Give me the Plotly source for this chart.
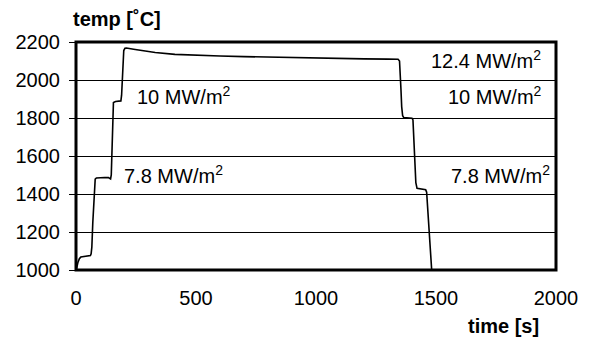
import plotly.graph_objects as go

# time [s] and temperature [°C]
time_s = [0, 3, 8, 14, 20, 35, 50, 60, 63, 66, 70, 74, 77, 80, 85, 100, 120, 135, 140, 144,
          147, 149, 151, 153, 156, 165, 180, 187, 190, 192, 195, 199, 204, 210, 240, 280,
          330, 412, 500, 600, 700, 800, 900, 975, 1100, 1200, 1300, 1342, 1348, 1351, 1354,
          1357, 1361, 1366, 1380, 1400, 1404, 1407, 1412, 1416, 1421, 1435, 1450, 1457, 1461,
          1465, 1470, 1475, 1479, 1482]
temp_c = [1000, 1010, 1040, 1060, 1068, 1071, 1073, 1076, 1085, 1120, 1250, 1380, 1455, 1478,
          1484, 1486, 1487, 1486, 1482, 1479, 1500, 1600, 1750, 1850, 1882, 1887, 1889, 1890,
          1920, 2000, 2100, 2155, 2167, 2168, 2162, 2154, 2145, 2135, 2130, 2126, 2123, 2120,
          2117, 2114, 2112, 2111, 2110, 2109, 2100, 2050, 1950, 1860, 1812, 1802, 1800, 1799,
          1790, 1720, 1560, 1460, 1430, 1427, 1425, 1422, 1410, 1330, 1200, 1090, 1010, 1000]

x_ticks = [0, 500, 1000, 1500, 2000]
y_ticks = [1000, 1200, 1400, 1600, 1800, 2000, 2200]

labels = ["10 MW/m<sup>2</sup>", "7.8 MW/m<sup>2</sup>",
          "12.4 MW/m<sup>2</sup>", "10 MW/m<sup>2</sup>", "7.8 MW/m<sup>2</sup>"]
label_x = [245, 190, 1945, 1950, 1985]
label_y = [1920, 1505, 2110, 1920, 1505]
label_anchor = ["left", "left", "right", "right", "right"]

FONT = "Arial, Liberation Sans, sans-serif"

fig = go.Figure()
fig.add_trace(go.Scatter(x=time_s, y=temp_c, mode="lines",
                         line=dict(color="black", width=1.6), showlegend=False,
                         hoverinfo="skip"))

for txt, lx, ly, anc in zip(labels, label_x, label_y, label_anchor):
    fig.add_annotation(x=lx, y=ly, xref="x", yref="y", text=txt, showarrow=False,
                       xanchor=anc, yanchor="middle",
                       font=dict(family=FONT, size=20, color="black"))

fig.add_annotation(x=-0.01, y=1.0, xref="paper", yref="paper", yshift=23,
                   text="<b>temp [˚C]</b>", showarrow=False, xanchor="left",
                   yanchor="middle", font=dict(family=FONT, size=20, color="black"))
fig.add_annotation(x=0.968, y=0, xref="paper", yref="paper", yshift=-56,
                   text="<b>time [s]</b>", showarrow=False, xanchor="right",
                   yanchor="middle", font=dict(family=FONT, size=20, color="black"))

fig.add_shape(type="rect", xref="paper", yref="paper", x0=0, y0=0, x1=1, y1=1,
              line=dict(color="black", width=3), layer="above")

fig.update_layout(
    width=591, height=338,
    margin=dict(l=76, r=35, t=42, b=68),
    paper_bgcolor="white", plot_bgcolor="white",
    font=dict(family=FONT, size=20, color="black"),
    xaxis=dict(range=[0, 2000], tickvals=x_ticks, ticks="", showgrid=False,
               zeroline=False, showline=False, ticklabelstandoff=14,
               tickfont=dict(size=20)),
    yaxis=dict(range=[1000, 2200], tickvals=y_ticks, ticks="outside", ticklen=6,
               tickcolor="black", tickwidth=1, showgrid=True, gridcolor="black",
               gridwidth=1, zeroline=False, showline=False, ticklabelstandoff=5,
               tickfont=dict(size=20)),
)

fig.write_html("out.html", config={"displayModeBar": False},
               post_script="document.body.style.margin='0';document.body.style.overflow='hidden';")
